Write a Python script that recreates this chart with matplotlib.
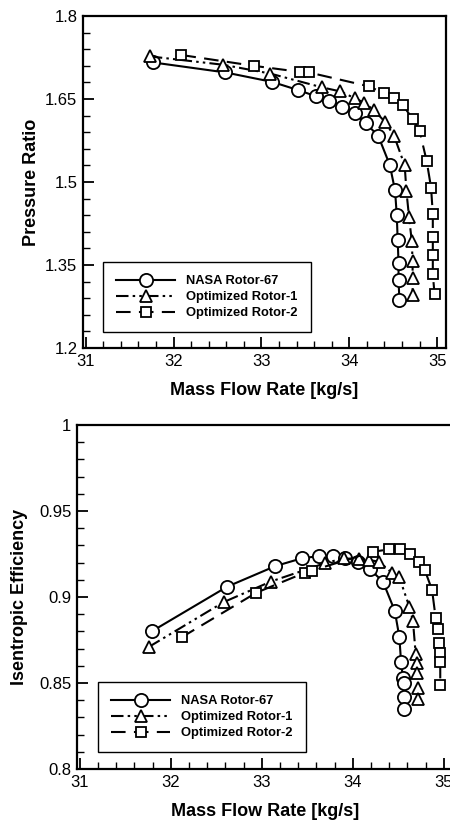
import matplotlib
matplotlib.use('Agg')
import matplotlib.pyplot as plt
from matplotlib.ticker import MultipleLocator
from matplotlib.lines import Line2D

plt.rcParams['font.family'] = ['Liberation Sans', 'DejaVu Sans']

# Pressure ratio map
nasa_pr_flow = [31.77, 32.59, 33.12, 33.42, 33.62, 33.77, 33.92, 34.06, 34.19,
                34.33, 34.46, 34.52, 34.54, 34.55, 34.56, 34.56, 34.57]
nasa_pr = [1.716, 1.698, 1.681, 1.666, 1.655, 1.647, 1.636, 1.624, 1.606,
           1.583, 1.531, 1.485, 1.440, 1.396, 1.354, 1.323, 1.286]
opt1_pr_flow = [31.73, 32.56, 33.10, 33.69, 33.89, 34.07, 34.17, 34.28, 34.41,
                34.51, 34.63, 34.65, 34.68, 34.71, 34.72, 34.72, 34.72]
opt1_pr = [1.727, 1.712, 1.696, 1.671, 1.664, 1.651, 1.643, 1.630, 1.608,
           1.583, 1.530, 1.483, 1.436, 1.394, 1.357, 1.327, 1.295]
opt2_pr_flow = [32.09, 32.91, 33.44, 33.54, 34.22, 34.40, 34.51, 34.61, 34.72,
                34.80, 34.88, 34.93, 34.95, 34.95, 34.95, 34.95, 34.97]
opt2_pr = [1.7295, 1.710, 1.699, 1.698, 1.673, 1.660, 1.651, 1.639, 1.614,
           1.592, 1.538, 1.490, 1.442, 1.401, 1.368, 1.333, 1.297]

# Efficiency map
nasa_eff_flow = [31.79, 32.62, 33.15, 33.44, 33.63, 33.78, 33.91, 34.06, 34.19,
                 34.33, 34.46, 34.51, 34.53, 34.55, 34.56, 34.56, 34.56]
nasa_eff = [0.880, 0.906, 0.918, 0.9225, 0.9238, 0.9238, 0.9225, 0.9205, 0.916,
            0.909, 0.892, 0.877, 0.862, 0.853, 0.850, 0.842, 0.835]
opt1_eff_flow = [31.76, 32.58, 33.10, 33.69, 33.90, 34.07, 34.18, 34.29, 34.43,
                 34.51, 34.62, 34.66, 34.69, 34.70, 34.71, 34.72, 34.72]
opt1_eff = [0.871, 0.897, 0.909, 0.9196, 0.9225, 0.9219, 0.9215, 0.9205, 0.914,
            0.9115, 0.8944, 0.8862, 0.8669, 0.8615, 0.8556, 0.8469, 0.8405]
opt2_eff_flow = [32.12, 32.94, 33.47, 33.55, 34.22, 34.40, 34.52, 34.63, 34.73,
                 34.79, 34.87, 34.91, 34.94, 34.95, 34.96, 34.96, 34.96]
opt2_eff = [0.8766, 0.9025, 0.9141, 0.9153, 0.9263, 0.9277, 0.9277, 0.925, 0.9205,
            0.9157, 0.9041, 0.8876, 0.8812, 0.8734, 0.8676, 0.8624, 0.8488]

labels = ['NASA Rotor-67', 'Optimized Rotor-1', 'Optimized Rotor-2']

styles = [
    dict(linestyle='-', marker='o', markersize=9.5),
    dict(linestyle=(0, (6, 2, 1.2, 2, 1.2, 2)), marker='^', markersize=8.5),
    dict(linestyle=(0, (7, 4)), marker='s', markersize=7.5),
]


def style_axes(ax, ylabel, yminor, yticks, yticklabels, ylabelpad):
    ax.set_xlim(30.97, 35.1)
    ax.xaxis.set_minor_locator(MultipleLocator(0.2))
    ax.set_xticks([31, 32, 33, 34, 35])
    ax.set_xticklabels(['31', '32', '33', '34', '35'])
    ax.yaxis.set_minor_locator(MultipleLocator(yminor))
    ax.set_yticks(yticks)
    ax.set_yticklabels(yticklabels)
    ax.tick_params(which='major', direction='in', length=8, width=1.3,
                   labelsize=12, top=False, right=False, pad=4)
    ax.tick_params(which='minor', direction='in', length=5, width=1.0,
                   top=False, right=False)
    for sp in ax.spines.values():
        sp.set_linewidth(1.6)
    ax.set_xlabel('Mass Flow Rate [kg/s]', fontsize=13, fontweight='bold', labelpad=10)
    ax.set_ylabel(ylabel, fontsize=13, fontweight='bold', labelpad=ylabelpad)


def add_legend(ax, anchor):
    handles = []
    for st, lab in zip(styles, labels):
        handles.append(Line2D([], [], color='black', linewidth=1.5,
                              markerfacecolor='white', markeredgecolor='black',
                              markeredgewidth=1.3, label=lab, **st))
    leg = ax.legend(handles=handles, loc='lower left', bbox_to_anchor=anchor,
                    borderaxespad=0, handlelength=4.6, handletextpad=0.85,
                    labelspacing=0.3, borderpad=1.0, fancybox=False, framealpha=1,
                    prop={'size': 9.3, 'weight': 'bold'})
    leg.get_frame().set_edgecolor('black')
    leg.get_frame().set_linewidth(1.0)


fig = plt.figure(figsize=(4.5, 8.25), dpi=100)

ax1 = fig.add_axes([83 / 450, 1 - 348 / 825, 363 / 450, 332 / 825])
for xs, ys, st in zip([nasa_pr_flow, opt1_pr_flow, opt2_pr_flow],
                      [nasa_pr, opt1_pr, opt2_pr], styles):
    ax1.plot(xs, ys, color='black', linewidth=1.5, markerfacecolor='white',
             markeredgecolor='black', markeredgewidth=1.3, **st)
ax1.set_ylim(1.2, 1.8)
style_axes(ax1, 'Pressure Ratio', 0.03,
           [1.2, 1.35, 1.5, 1.65, 1.8], ['1.2', '1.35', '1.5', '1.65', '1.8'], 4)
add_legend(ax1, (0.055, 0.048))

ax2 = fig.add_axes([77 / 450, 1 - 769 / 825, 376 / 450, 344 / 825])
for xs, ys, st in zip([nasa_eff_flow, opt1_eff_flow, opt2_eff_flow],
                      [nasa_eff, opt1_eff, opt2_eff], styles):
    ax2.plot(xs, ys, color='black', linewidth=1.5, markerfacecolor='white',
             markeredgecolor='black', markeredgewidth=1.3, **st)
ax2.set_ylim(0.8, 1.0)
style_axes(ax2, 'Isentropic Efficiency', 0.01,
           [0.8, 0.85, 0.9, 0.95, 1.0], ['0.8', '0.85', '0.9', '0.95', '1'], 8)
add_legend(ax2, (0.056, 0.049))

fig.savefig('out.png', dpi=100)
